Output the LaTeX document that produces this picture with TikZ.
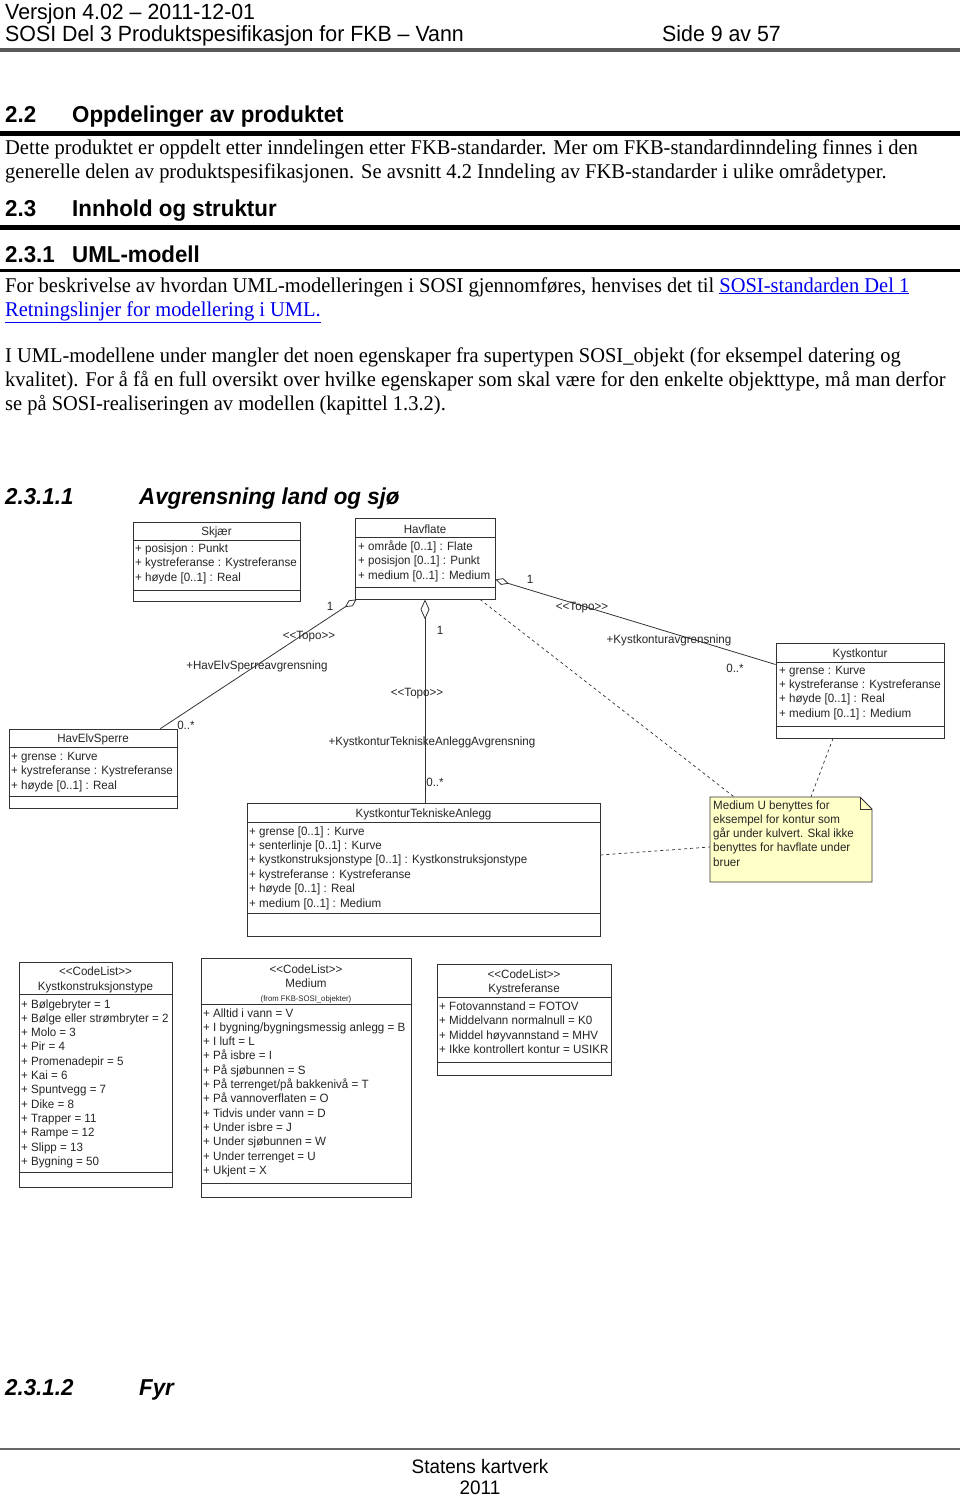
\documentclass[tikz,border=0pt]{standalone}
\usepackage{fontspec}
\setmainfont{Liberation Serif}[FakeStretch=0.975]
\newfontfamily\hdrfont{Liberation Sans}[FakeStretch=0.97]
\newfontfamily\umlfont{Liberation Sans}[FakeStretch=0.965]
\usepackage{tikz}
\usetikzlibrary{positioning,calc,arrows.meta}
\definecolor{notefill}{RGB}{255,255,200}
\definecolor{linkblue}{RGB}{0,0,238}
\newcommand\stereo[1]{\textless\textless#1\textgreater\textgreater}

\tikzset{
  hdr/.style={anchor=base west,inner sep=0,font=\hdrfont\fontsize{22}{24}\selectfont},
  foot/.style={anchor=base,inner sep=0,font=\hdrfont\fontsize{19.5}{22}\selectfont},
  sect/.style={anchor=base west,inner sep=0,font=\hdrfont\bfseries\fontsize{23}{26}\selectfont},
  subsect/.style={anchor=base west,inner sep=0,font=\hdrfont\bfseries\itshape\fontsize{23}{26}\selectfont},
  body/.style={anchor=base west,inner sep=0,font=\fontsize{21}{24}\selectfont},
  umlbox/.style={draw=black!80,line width=0.8pt,inner sep=0,fill=white},
  divider/.style={draw=black!80,line width=0.8pt},
  attr/.style={anchor=west,inner sep=0,text height=10pt,text depth=2pt,font=\umlfont\fontsize{12}{14}\selectfont,text=black!85},
  ttl/.style={inner sep=0,text height=10pt,text depth=2pt,font=\umlfont\fontsize{12}{14}\selectfont,text=black!85},
  role/.style={inner sep=0,text height=10pt,text depth=2pt,font=\umlfont\fontsize{12}{14}\selectfont,text=black!85},
  assoc/.style={draw=black!80,line width=0.8pt},
  notelink/.style={draw=black!80,line width=0.7pt,dash pattern=on 3pt off 3pt},
}

\begin{document}
\begin{tikzpicture}[x=1pt,y=-1pt]
\fill[white] (0,0) rectangle (960,1497);
\useasboundingbox (0,0) rectangle (960,1497);

\node[hdr] (ver) at (5,19) {Versjon 4.02 – 2011-12-01};
\node[hdr] (doc) at (5,41) {SOSI Del 3 Produktspesifikasjon for FKB – Vann};
\node[hdr] (side) at (662,41) {Side 9 av 57};
\draw[line width=3.5pt,black!65] (0,50) -- (960,50);

\node[sect] (s22n) at (5,122) {2.2};
\node[sect] (s22) at (72,122) {Oppdelinger av produktet};
\draw[line width=5pt] (0,133.5) -- (960,133.5);
\node[body] (p1a) at (5,154) {Dette produktet er oppdelt etter inndelingen etter FKB-standarder. Mer om FKB-standardinndeling finnes i den};
\node[body] (p1b) at (5,178) {generelle delen av produktspesifikasjonen. Se avsnitt 4.2 Inndeling av FKB-standarder i ulike områdetyper.};

\node[sect] (s23n) at (5,216) {2.3};
\node[sect] (s23) at (72,216) {Innhold og struktur};
\draw[line width=5pt] (0,227.5) -- (960,227.5);

\node[sect] (s231n) at (5,262) {2.3.1};
\node[sect] (s231) at (72,262) {UML-modell};
\draw[line width=3pt] (0,270.5) -- (960,270.5);
\node[body] (p2a) at (5,292) {For beskrivelse av hvordan UML-modelleringen i SOSI gjennomføres, henvises det til \textcolor{linkblue}{\underline{SOSI-standarden Del 1}}};
\node[body] (p2b) at (5,316) {\textcolor{linkblue}{\underline{Retningslinjer for modellering i UML.}}};
\node[body] (p3a) at (5,362) {I UML-modellene under mangler det noen egenskaper fra supertypen SOSI\_objekt (for eksempel datering og};
\node[body] (p3b) at (5,386) {kvalitet). For å få en full oversikt over hvilke egenskaper som skal være for den enkelte objekttype, må man derfor};
\node[body] (p3c) at (5,410) {se på SOSI-realiseringen av modellen (kapittel 1.3.2).};

\node[subsect] (s2311n) at (5,504) {2.3.1.1};
\node[subsect] (s2311) at (139,504) {Avgrensning land og sjø};

% klasser
\node[umlbox,minimum width=167,minimum height=79] (skjaer) at (216.5,561.5) {};
\draw[divider] (133,540) -- (300,540) (133,590) -- (300,590);
\node[ttl] (skjaer-t) at (216.5,531) {Skjær};
\foreach \t [count=\i from 0] in {{+ posisjon : Punkt},{+ kystreferanse : Kystreferanse},{+ høyde [0..1] : Real}}
  \node[attr] (skjaer-a\i) at (135,548+14.5*\i) {\t};

\node[umlbox,minimum width=140,minimum height=81] (havflate) at (425,558.5) {};
\draw[divider] (355,537) -- (495,537) (355,587) -- (495,587);
\node[ttl] (havflate-t) at (425,529) {Havflate};
\foreach \t [count=\i from 0] in {{+ område [0..1] : Flate},{+ posisjon [0..1] : Punkt},{+ medium [0..1] : Medium}}
  \node[attr] (havflate-a\i) at (358,546+14.5*\i) {\t};

\node[umlbox,minimum width=168,minimum height=79] (hes) at (93,768.5) {};
\draw[divider] (9,747) -- (177,747) (9,796) -- (177,796);
\node[ttl] (hes-t) at (93,738) {HavElvSperre};
\foreach \t [count=\i from 0] in {{+ grense : Kurve},{+ kystreferanse : Kystreferanse},{+ høyde [0..1] : Real}}
  \node[attr] (hes-a\i) at (11,756+14.5*\i) {\t};

\node[umlbox,minimum width=168,minimum height=95] (kystkontur) at (860,690.5) {};
\draw[divider] (776,662) -- (944,662) (776,726) -- (944,726);
\node[ttl] (kystkontur-t) at (860,653) {Kystkontur};
\foreach \t [count=\i from 0] in {{+ grense : Kurve},{+ kystreferanse : Kystreferanse},{+ høyde [0..1] : Real},{+ medium [0..1] : Medium}}
  \node[attr] (kystkontur-a\i) at (779,670+14.4*\i) {\t};

\node[umlbox,minimum width=353,minimum height=133] (kta) at (423.5,869.5) {};
\draw[divider] (247,822) -- (600,822) (247,913) -- (600,913);
\node[ttl] (kta-t) at (423.5,813) {KystkonturTekniskeAnlegg};
\foreach \t [count=\i from 0] in {{+ grense [0..1] : Kurve},{+ senterlinje [0..1] : Kurve},{+ kystkonstruksjonstype [0..1] : Kystkonstruksjonstype},{+ kystreferanse : Kystreferanse},{+ høyde [0..1] : Real},{+ medium [0..1] : Medium}}
  \node[attr] (kta-a\i) at (249,831+14.4*\i) {\t};

% merknad
\node[minimum width=162,minimum height=85,inner sep=0] (note) at (791,839.5) {};
\draw[draw=black!80,line width=0.8pt,fill=notefill] (710,797) -- (860,797) -- (872,809) -- (872,882) -- (710,882) -- cycle;
\draw[draw=black!80,line width=0.8pt] (860,797) -- (860,809) -- (872,809);
\foreach \t [count=\i from 0] in {{Medium U benyttes for},{eksempel for kontur som},{går under kulvert. Skal ikke},{benyttes for havflate under},{bruer}}
  \node[attr] (note-l\i) at (713,805+14.3*\i) {\t};

% assosiasjoner
\draw[assoc,{Diamond[open,length=14pt,width=7pt]}-] ([xshift=2pt]havflate.south west) -- ([xshift=-17pt]hes.north east);
\node[role] (r1a) at (330,606) {1};
\node[role] (r1b) at (309,635) {\stereo{Topo}};
\node[role] (r1c) at (257,665) {+HavElvSperreavgrensning};
\node[role] (r1d) at (186,725) {0..*};

\draw[assoc,{Diamond[open,length=20pt,width=9pt]}-] (havflate.south) -- (havflate.south |- kta.north);
\node[role] (r2a) at (440,630) {1};
\node[role] (r2b) at (417,692) {\stereo{Topo}};
\node[role] (r2c) at (432,741) {+KystkonturTekniskeAnleggAvgrensning};
\node[role] (r2d) at (435,782) {0..*};

\draw[assoc,{Diamond[open,length=14pt,width=7pt]}-] ([yshift=-21pt]havflate.east) -- ([yshift=26pt]kystkontur.west);
\node[role] (r3a) at (530,579) {1};
\node[role] (r3b) at (582,606) {\stereo{Topo}};
\node[role] (r3c) at (669,639) {+Kystkonturavgrensning};
\node[role] (r3d) at (735,668) {0..*};

\draw[notelink] ([xshift=55pt]havflate.south) -- ([xshift=-57pt]note.north);
\draw[notelink] ([xshift=-27pt]kystkontur.south) -- ([xshift=20pt]note.north);
\draw[notelink] ([yshift=14.5pt]kta.east) -- ([yshift=-7.5pt]note.west);

% kodelister
\node[umlbox,minimum width=153,minimum height=225] (kkt) at (95.5,1074.5) {};
\draw[divider] (19,994) -- (172,994) (19,1172) -- (172,1172);
\node[ttl] (kkt-s) at (95.5,971) {\stereo{CodeList}};
\node[ttl] (kkt-t) at (95.5,986) {Kystkonstruksjonstype};
\foreach \t [count=\i from 0] in {{+ Bølgebryter = 1},{+ Bølge eller strømbryter = 2},{+ Molo = 3},{+ Pir = 4},{+ Promenadepir = 5},{+ Kai = 6},{+ Spuntvegg = 7},{+ Dike = 8},{+ Trapper = 11},{+ Rampe = 12},{+ Slipp = 13},{+ Bygning = 50}}
  \node[attr] (kkt-a\i) at (21,1004+14.3*\i) {\t};

\node[umlbox,minimum width=210,minimum height=239] (medium) at (306,1077.5) {};
\draw[divider] (201,1004) -- (411,1004) (201,1183) -- (411,1183);
\node[ttl] (medium-s) at (306,969) {\stereo{CodeList}};
\node[ttl] (medium-t) at (306,983) {Medium};
\node[ttl,font=\umlfont\fontsize{8}{9}\selectfont] (medium-f) at (306,997) {(from FKB-SOSI\_objekter)};
\foreach \t [count=\i from 0] in {{+ Alltid i vann = V},{+ I bygning/bygningsmessig anlegg = B},{+ I luft = L},{+ På isbre = I},{+ På sjøbunnen = S},{+ På terrenget/på bakkenivå = T},{+ På vannoverflaten = O},{+ Tidvis under vann = D},{+ Under isbre = J},{+ Under sjøbunnen = W},{+ Under terrenget = U},{+ Ukjent = X}}
  \node[attr] (medium-a\i) at (203,1013+14.3*\i) {\t};

\node[umlbox,minimum width=174,minimum height=111] (kref) at (524,1019.5) {};
\draw[divider] (437,997) -- (611,997) (437,1062) -- (611,1062);
\node[ttl] (kref-s) at (524,974) {\stereo{CodeList}};
\node[ttl] (kref-t) at (524,988) {Kystreferanse};
\foreach \t [count=\i from 0] in {{+ Fotovannstand = FOTOV},{+ Middelvann normalnull = K0},{+ Middel høyvannstand = MHV},{+ Ikke kontrollert kontur = USIKR}}
  \node[attr] (kref-a\i) at (439,1006+14.5*\i) {\t};

\node[subsect] (s2312n) at (5,1395) {2.3.1.2};
\node[subsect] (s2312) at (139,1395) {Fyr};

\draw[line width=1.2pt,black!60] (0,1449) -- (960,1449);
\node[foot] (org) at (480,1473) {Statens kartverk};
\node[foot] (year) at (480,1494) {2011};
\end{tikzpicture}
\end{document}
